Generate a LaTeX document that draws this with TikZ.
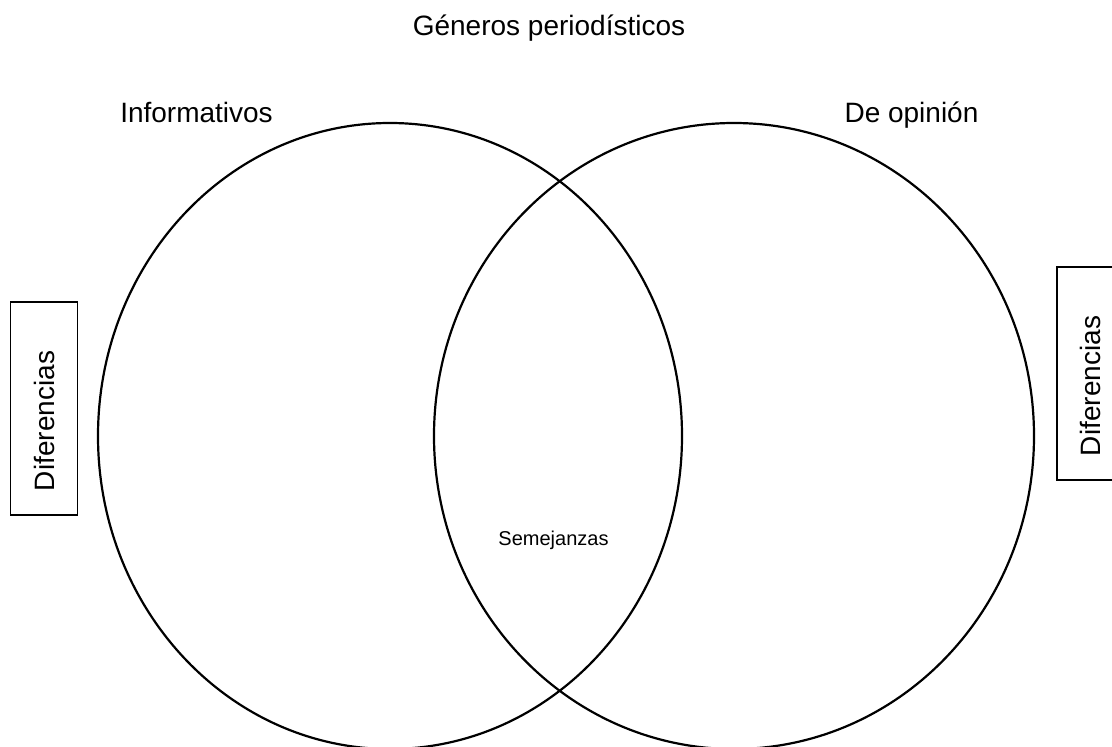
\documentclass[tikz,border=0pt]{standalone}
\usepackage{fontspec}
\setmainfont{Liberation Sans}
\usetikzlibrary{shapes, positioning}

\begin{document}
\begin{tikzpicture}[x=1pt, y=-1pt,
    circ/.style={draw, ellipse, line width=2.2pt, minimum height=626pt},
    diffbox/.style={draw, line width=1.2pt, rotate=90, minimum height=67pt,
      inner xsep=24pt, inner ysep=0pt, text width=165pt, align=left,
      font=\fontsize{28}{32}\selectfont},
    lbl/.style={inner sep=0pt, anchor=base, font=\fontsize{28}{32}\selectfont}]
  \useasboundingbox (0,0) rectangle (1112,747);
  \clip (0,0) rectangle (1112,747);
  % the two sets
  \node[circ, minimum width=584pt] (info) at (390,436) {};
  \node[circ, minimum width=600pt] (opin) at (734,436) {};
  % titles
  \node[lbl] (title) at (549,35) {Géneros periodísticos};
  \node[lbl] (infolbl) at (196.5,122) {Informativos};
  \node[lbl] (opinlbl) at (911.5,122) {De opinión};
  \node[lbl, font=\fontsize{20}{24}\selectfont] (seme) at (553.5,545) {Semejanzas};
  % side boxes
  \node[diffbox] (diffl) at (44.3,408.5) {Diferencias};
  \node[diffbox] (diffr) at (1090.5,373.5) {Diferencias};
\end{tikzpicture}
\end{document}
